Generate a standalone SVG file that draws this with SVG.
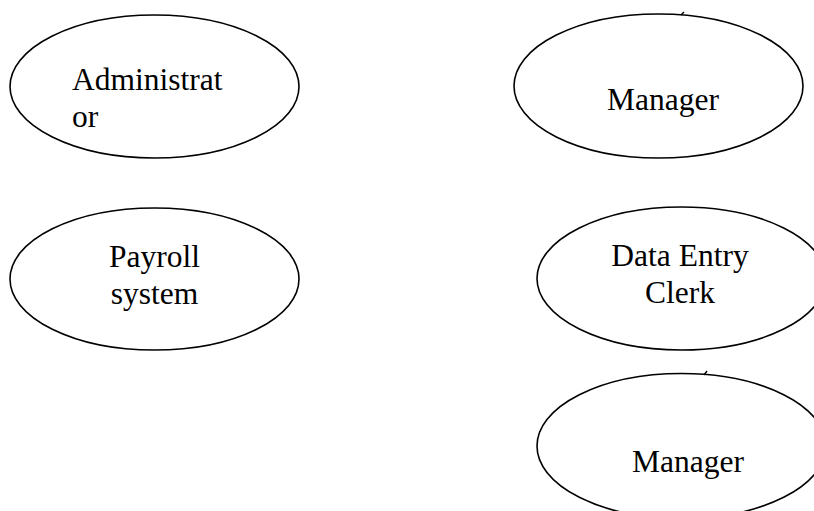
<svg xmlns="http://www.w3.org/2000/svg" width="814" height="511" viewBox="0 0 814 511">
<style>
.n{fill:#fff;stroke:#000;stroke-width:1.6}
.t{font-family:"Liberation Serif","Times New Roman",serif;font-size:31.5px;fill:#000}
.c{text-anchor:middle}
.k{fill:none;stroke:#000;stroke-width:1.4}
</style>
<rect width="814" height="511" fill="#fff"/>
<g id="administrator">
<ellipse class="n" cx="154.5" cy="86.5" rx="144.5" ry="71.5"/>
<text class="t" x="72" y="90">Administrat</text>
<text class="t" x="72" y="127">or</text>
</g>
<g id="manager1">
<ellipse class="n" cx="658.5" cy="86" rx="144.5" ry="72"/>
<text class="t" x="607" y="110">Manager</text>
</g>
<g id="payroll">
<ellipse class="n" cx="154.5" cy="279" rx="144.5" ry="71"/>
<text class="t c" x="154.5" y="267">Payroll</text>
<text class="t c" x="154.5" y="304">system</text>
</g>
<g id="dataentry">
<ellipse class="n" cx="681.5" cy="278.5" rx="144.5" ry="71.5"/>
<text class="t c" x="680" y="266">Data Entry</text>
<text class="t c" x="680" y="303">Clerk</text>
</g>
<g id="manager2">
<ellipse class="n" cx="681.5" cy="446" rx="144.5" ry="72.5"/>
<text class="t" x="632" y="472">Manager</text>
</g>
<g id="connectors">
<path class="k" d="M681 15 L684 12"/>
<path class="k" d="M704 375 L707 371"/>
</g>
</svg>
